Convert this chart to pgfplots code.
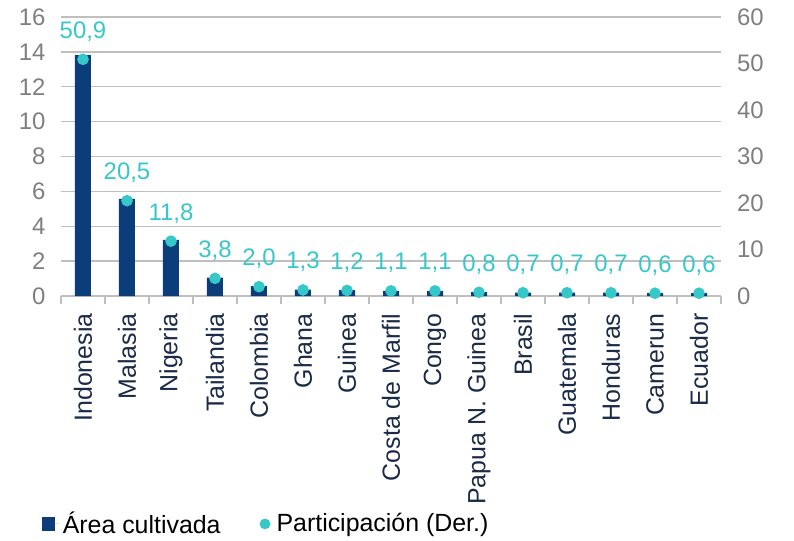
\documentclass[border=0pt]{standalone}
\usepackage{pgfplots}
\pgfplotsset{compat=1.18}
\usepackage{fontspec}
\setmainfont{Liberation Sans}
\definecolor{barblue}{HTML}{0B3D7A}
\definecolor{dotcyan}{HTML}{36C8C8}
\definecolor{gridgray}{HTML}{BFBFBF}
\definecolor{labgray}{HTML}{7F7F7F}
\definecolor{catnavy}{HTML}{1B2A47}
\begin{document}
\begin{tikzpicture}
\path (-30.5bp,-120.5bp) rectangle (366.5bp,148bp);
\begin{axis}[
  at={(0,0)}, anchor=south west,
  width=330bp, height=139.5bp, scale only axis,
  xmin=-0.5, xmax=14.5, ymin=0, ymax=16,
  ytick={0,2,...,16},
  xtick={0,...,14},
  xticklabels={Indonesia,Malasia,Nigeria,Tailandia,Colombia,Ghana,Guinea,Costa de Marfil,Congo,Papua N. Guinea,Brasil,Guatemala,Honduras,Camerun,Ecuador},
  x tick label style={rotate=90, anchor=east, font=\fontsize{12.5}{14}\selectfont, text=catnavy, xshift=-1bp},
  y tick label style={font=\fontsize{12}{14}\selectfont, text=labgray},
  /pgf/number format/assume math mode=true,
  major x tick style={draw=none},
  minor xtick={-0.5,0.5,...,14.5},
  minor x tick style={draw=gridgray, line width=0.7bp},
  tick align=outside,
  minor tick length=4bp,
  ytick style={draw=none},
  axis x line*=bottom, axis y line*=left,
  x axis line style={draw=gridgray, line width=0.7bp, -},
  y axis line style={draw=none},
  ymajorgrids, grid style={draw=gridgray, line width=0.7bp},
  legend style={at={(-0.030,-0.817)}, anchor=west, draw=none, fill=none, inner sep=0pt,
    legend columns=2, font=\fontsize{12.5}{14}\selectfont,
    /tikz/every even column/.append style={column sep=17.5bp}},
  legend cell align=left,
]
\addplot[ybar, bar width=8bp, fill=barblue, draw=none, area legend,
  legend image code/.code={\fill[barblue] (0bp,-3.3bp) rectangle (6.6bp,3.3bp); \path[draw=none] (0bp,0bp) -- (8.6bp,0bp);}]
  coordinates {(0,13.82) (1,5.57) (2,3.22) (3,1.05) (4,0.56) (5,0.36) (6,0.33) (7,0.30) (8,0.30) (9,0.22) (10,0.19) (11,0.19) (12,0.19) (13,0.16) (14,0.16)};
\addlegendentry{Área cultivada}
\addlegendimage{draw=none, legend image code/.code={\fill[dotcyan, draw=none] (2.7bp,0bp) circle (2.7bp); \path[draw=none] (0bp,0bp) -- (6.5bp,0bp);}}
\addlegendentry{Participación (Der.)}
\end{axis}
\begin{axis}[
  at={(0,0)}, anchor=south west,
  width=330bp, height=139.5bp, scale only axis,
  xmin=-0.5, xmax=14.5, ymin=0, ymax=60,
  ytick={0,10,...,60},
  axis x line=none,
  axis y line*=right,
  y axis line style={draw=none},
  ytick style={draw=none},
  y tick label style={font=\fontsize{12}{14}\selectfont, text=labgray, xshift=4.5bp},
  /pgf/number format/assume math mode=true,
  clip=false,
]
\addplot[only marks, mark=*, mark size=2.7bp, color=dotcyan,
  nodes near coords={\pgfmathprintnumber[use comma,fixed,fixed zerofill,precision=1]{\pgfplotspointmeta}},
  nodes near coords style={font=\fontsize{12}{14}\selectfont, text=dotcyan, yshift=5.5bp}]
  coordinates {(0,50.9) (1,20.5) (2,11.8) (3,3.8) (4,2.0) (5,1.3) (6,1.2) (7,1.1) (8,1.1) (9,0.8) (10,0.7) (11,0.7) (12,0.7) (13,0.6) (14,0.6)};
\end{axis}
\end{tikzpicture}
\end{document}
